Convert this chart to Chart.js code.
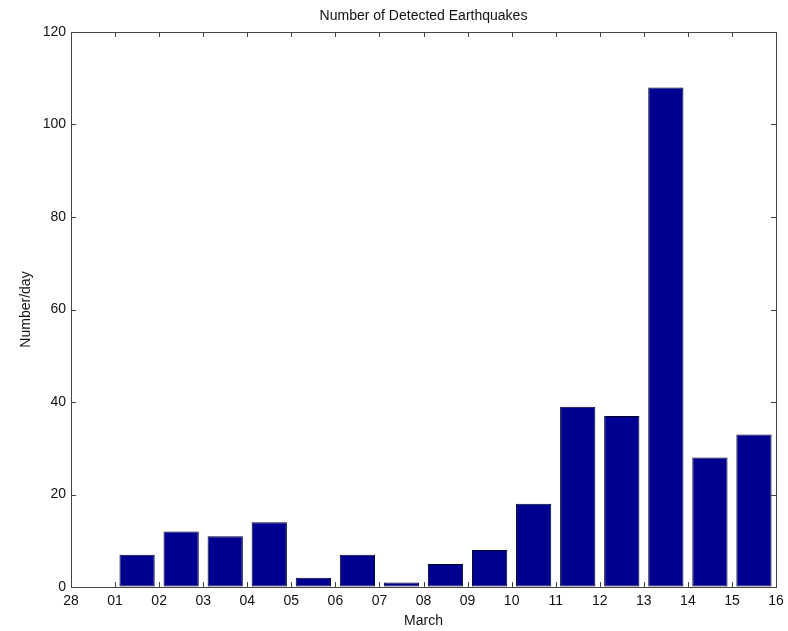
<!DOCTYPE html>
<html>
<head>
<meta charset="utf-8">
<script src="https://cdn.jsdelivr.net/npm/chart.js@4/dist/chart.umd.min.js"></script>
<style>
  html, body { margin: 0; padding: 0; background: #fff; }
  #wrap { width: 788px; height: 631px; position: relative; }
</style>
</head>
<body>
<div id="wrap"><canvas id="c" width="788" height="631"></canvas></div>
<script>
// ---- data ----
const chartTitle = 'Number of Detected Earthquakes';
const xAxisTitle = 'March';
const yAxisTitle = 'Number/day';
const dayTickLabels = ['28','01','02','03','04','05','06','07','08','09','10','11','12','13','14','15','16'];
const dailyCounts = [0, 7, 12, 11, 14, 2, 7, 1, 5, 8, 18, 39, 37, 108, 28, 33];
const yTickValues = [0, 20, 40, 60, 80, 100, 120];

const FONT = '"Liberation Sans", Arial, Helvetica, sans-serif';
const BAR_COLOR = '#000090';
const AXIS_COLOR = '#444';
const TEXT_COLOR = '#111';

// each bar sits between two day ticks
const barPoints = dailyCounts.map((v, i) => ({ x: i + 0.5, y: v }));

const boxAndTicks = {
  id: 'boxAndTicks',
  afterDatasetsDraw(chart) {
    const { ctx, chartArea: a, scales: { x, y } } = chart;
    const len = 5;
    ctx.save();
    ctx.strokeStyle = AXIS_COLOR;
    ctx.lineWidth = 1;
    ctx.beginPath();
    ctx.rect(Math.round(a.left) + 0.5, Math.round(a.top) + 0.5,
             Math.round(a.right - a.left), Math.round(a.bottom - a.top));
    x.ticks.forEach(t => {
      const px = Math.round(x.getPixelForValue(t.value)) + 0.5;
      ctx.moveTo(px, a.bottom); ctx.lineTo(px, a.bottom - len);
      ctx.moveTo(px, a.top); ctx.lineTo(px, a.top + len);
    });
    y.ticks.forEach(t => {
      const py = Math.round(y.getPixelForValue(t.value)) + 0.5;
      ctx.moveTo(a.left, py); ctx.lineTo(a.left + len, py);
      ctx.moveTo(a.right, py); ctx.lineTo(a.right - len, py);
    });
    ctx.stroke();
    // chart title centred over the axes
    ctx.fillStyle = TEXT_COLOR;
    ctx.font = '14px ' + FONT;
    ctx.textAlign = 'center';
    ctx.textBaseline = 'middle';
    ctx.fillText(chartTitle, (a.left + a.right) / 2, 16);
    ctx.restore();
  }
};

new Chart(document.getElementById('c'), {
  type: 'bar',
  data: {
    datasets: [{
      data: barPoints,
      backgroundColor: BAR_COLOR,
      borderColor: '#000028',
      borderWidth: 1,
      borderSkipped: false,
      barPercentage: 0.8,
      categoryPercentage: 1.0
    }]
  },
  options: {
    responsive: false,
    animation: false,
    events: [],
    layout: { padding: { top: 32, right: 12, left: 0, bottom: 0 } },
    plugins: { legend: { display: false }, tooltip: { enabled: false }, title: { display: false } },
    scales: {
      x: {
        type: 'linear',
        min: 0,
        max: dayTickLabels.length - 1,
        offset: false,
        grid: { display: true, drawOnChartArea: false, drawTicks: false, offset: false },
        border: { display: true, color: AXIS_COLOR },
        afterBuildTicks(scale) {
          scale.ticks = dayTickLabels.map((_, i) => ({ value: i }));
        },
        ticks: {
          autoSkip: false,
          maxRotation: 0,
          padding: 6,
          color: TEXT_COLOR,
          font: { family: FONT, size: 14 },
          callback: (v) => dayTickLabels[v]
        },
        title: {
          display: true,
          text: xAxisTitle,
          color: TEXT_COLOR,
          font: { family: FONT, size: 14 },
          padding: { top: 0, bottom: 1 }
        },
        afterFit(scale) {
          scale.height = 44;
          scale.paddingLeft = 0;
          scale.paddingRight = 0;
        }
      },
      y: {
        type: 'linear',
        min: 0,
        max: 120,
        grid: { display: true, drawOnChartArea: false, drawTicks: false },
        border: { display: true, color: AXIS_COLOR },
        afterBuildTicks(scale) {
          scale.ticks = yTickValues.map(v => ({ value: v }));
        },
        ticks: {
          padding: 5,
          color: TEXT_COLOR,
          font: { family: FONT, size: 14 }
        },
        title: {
          display: true,
          text: yAxisTitle,
          color: TEXT_COLOR,
          font: { family: FONT, size: 14 },
          padding: { top: 18, bottom: 0 }
        },
        afterFit(scale) {
          scale.width = 71;
          scale.paddingTop = 0;
          scale.paddingBottom = 0;
        }
      }
    }
  },
  plugins: [boxAndTicks]
});
</script>
</body>
</html>
